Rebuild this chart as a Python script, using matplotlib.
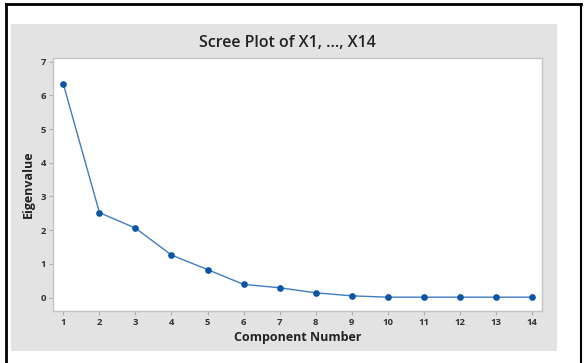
import matplotlib
matplotlib.use("Agg")
import matplotlib.pyplot as plt
from matplotlib.patches import Rectangle
from matplotlib.lines import Line2D

components = [1, 2, 3, 4, 5, 6, 7, 8, 9, 10, 11, 12, 13, 14]
eigenvalues = [6.33, 2.52, 2.06, 1.26, 0.83, 0.39, 0.29, 0.14, 0.05, 0.01, 0.01, 0.01, 0.01, 0.01]
y_ticks = [0, 1, 2, 3, 4, 5, 6, 7]

plt.rcParams['font.family'] = ['Open Sans', 'DejaVu Sans']

fig = plt.figure(figsize=(5.84, 3.63), dpi=100)
fig.patch.set_facecolor("white")

# gray panel behind the chart
fig.patches.append(Rectangle((11 / 584, 1 - 351 / 363), 546 / 584, 327 / 363,
                             transform=fig.transFigure, facecolor="#e3e3e3",
                             edgecolor="none", zorder=-5))
# black outer frame (left, top, right)
fig.add_artist(Line2D([6 / 584, 6 / 584], [0, 1 - 4 / 363], transform=fig.transFigure, color="black", lw=2))
fig.add_artist(Line2D([6 / 584, 581 / 584], [1 - 4 / 363, 1 - 4 / 363], transform=fig.transFigure, color="black", lw=2))
fig.add_artist(Line2D([581 / 584, 581 / 584], [0, 1 - 4 / 363], transform=fig.transFigure, color="black", lw=1.5))

ax = fig.add_axes([53.3 / 584, 1 - 311 / 363, 489 / 584, 253 / 363])
ax.set_zorder(2)
ax.set_facecolor("white")
ax.plot(components, eigenvalues, color="#3f7cc4", linewidth=1.0,
        marker="o", markersize=3.8, markerfacecolor="#0a55a5", markeredgecolor="#0a55a5")

ax.set_xlim(0.72, 14.29)
ax.set_ylim(-0.4, 7.11)
ax.set_xticks(components)
ax.set_yticks(y_ticks)
ax.tick_params(axis="both", labelsize=6.8, colors="#b0b0b0", labelcolor="#333333",
               length=3, width=0.8, pad=2)
for lbl in ax.get_xticklabels() + ax.get_yticklabels():
    lbl.set_fontweight("bold")
for s in ax.spines.values():
    s.set_color("#c4c4c4")
    s.set_linewidth(1.0)

ax.set_xlabel("Component Number", fontsize=9, fontweight="bold", color="#222222", labelpad=3)
ax.set_ylabel("Eigenvalue", fontsize=9, fontweight="bold", color="#222222", labelpad=4)
fig.text(287 / 584, 1 - 43 / 363, "Scree Plot of X1, …, X14", fontsize=11.5,
         fontweight="semibold", ha="center", va="center", color="#222222")

fig.savefig("out.png", dpi=100)
